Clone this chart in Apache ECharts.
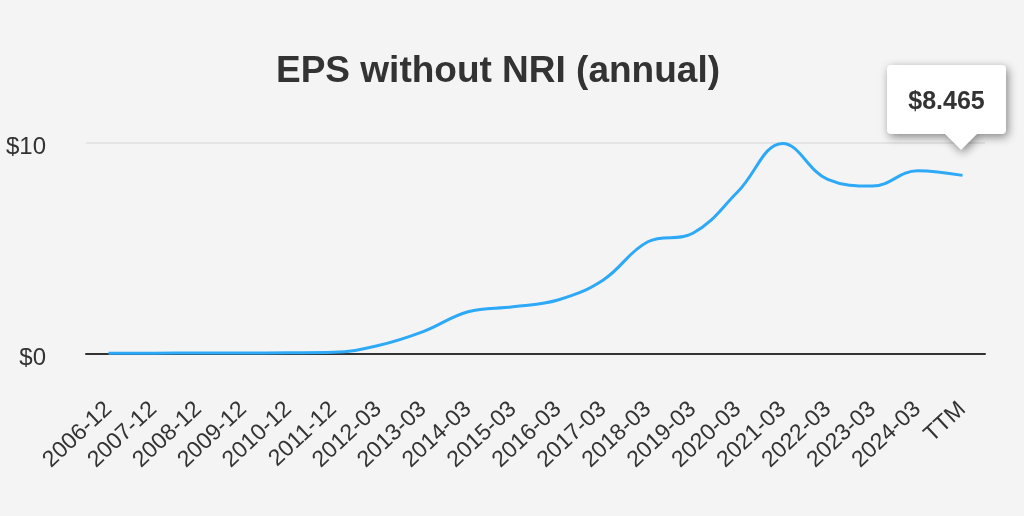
<!DOCTYPE html>
<html>
<head>
<meta charset="utf-8">
<script src="https://cdn.jsdelivr.net/npm/echarts@6/dist/echarts.min.js"></script>
<style>
html,body{margin:0;padding:0;background:#f4f4f4;}
#chart{width:1024px;height:516px;}
</style>
</head>
<body>
<div id="chart"></div>
<script>
const categories = ['2006-12','2007-12','2008-12','2009-12','2010-12','2011-12','2012-03','2013-03','2014-03','2015-03','2016-03','2017-03','2018-03','2019-03','2020-03','2021-03','2022-03','2023-03','2024-03','TTM'];
const epsValues = [0.03,0.04,0.05,0.05,0.06,0.08,0.4,1.06,2.0,2.24,2.56,3.5,5.32,5.72,7.69,9.98,8.28,7.96,8.69,8.465];
const yTicks = [0, 10];
const titleText = 'EPS without NRI (annual)';
const lastIdx = epsValues.length - 1;

const chart = echarts.init(document.getElementById('chart'), null, {renderer:'canvas'});
chart.setOption({
  backgroundColor: '#f4f4f4',
  animation: false,
  title: {
    text: titleText,
    left: 271,
    top: 48,
    textStyle: {fontFamily:'Liberation Sans, Arial, sans-serif', fontSize:37, fontWeight:'bold', color:'#333'}
  },
  grid: {left: 86, right: 39, top: 143, bottom: 162},
  xAxis: {
    type: 'category',
    data: categories,
    boundaryGap: true,
    axisLine: {show:true, lineStyle:{color:'#333', width:2}},
    axisTick: {show:false},
    axisLabel: {rotate:43, interval:0, margin:52, fontFamily:'Liberation Sans, Arial, sans-serif', fontSize:23, color:'#333'},
    splitLine: {show:false}
  },
  yAxis: {
    type: 'value',
    min: yTicks[0],
    max: yTicks[yTicks.length-1],
    interval: yTicks[1]-yTicks[0],
    axisLine: {show:false},
    axisTick: {show:false},
    axisLabel: {margin:40, fontFamily:'Liberation Sans, Arial, sans-serif', fontSize:24, color:'#333', formatter: v => '$' + v, verticalAlign:'top', lineHeight:8},
    splitLine: {show:true, lineStyle:{color:'#e4e4e4', width:2}}
  },
  series: [{
    type: 'line',
    data: epsValues,
    smooth: 0.4,
    showSymbol: false,
    lineStyle: {color:'#2ea9f7', width:3},
    itemStyle: {color:'#2ea9f7'},
    markPoint: {
      silent: true,
      data: [{coord:[categories[lastIdx], epsValues[lastIdx]], value: epsValues[lastIdx]}],
      symbol: 'path://M4,0 H115 Q119,0 119,4 V65 Q119,69 115,69 H90 L74,85 L58,69 H4 Q0,69 0,65 V4 Q0,0 4,0 Z',
      symbolSize: [119, 85],
      symbolKeepAspect: false,
      symbolOffset: [-16, -68],
      itemStyle: {color:'#ffffff', shadowBlur:10, shadowColor:'rgba(0,0,0,0.45)', shadowOffsetX:2, shadowOffsetY:3},
      label: {
        show: true,
        position: 'inside',
        offset: [0, -5],
        formatter: p => '$' + p.value,
        fontFamily:'Liberation Sans, Arial, sans-serif',
        fontSize: 25,
        fontWeight: 'bold',
        color: '#333'
      }
    }
  }]
});
</script>
</body>
</html>
